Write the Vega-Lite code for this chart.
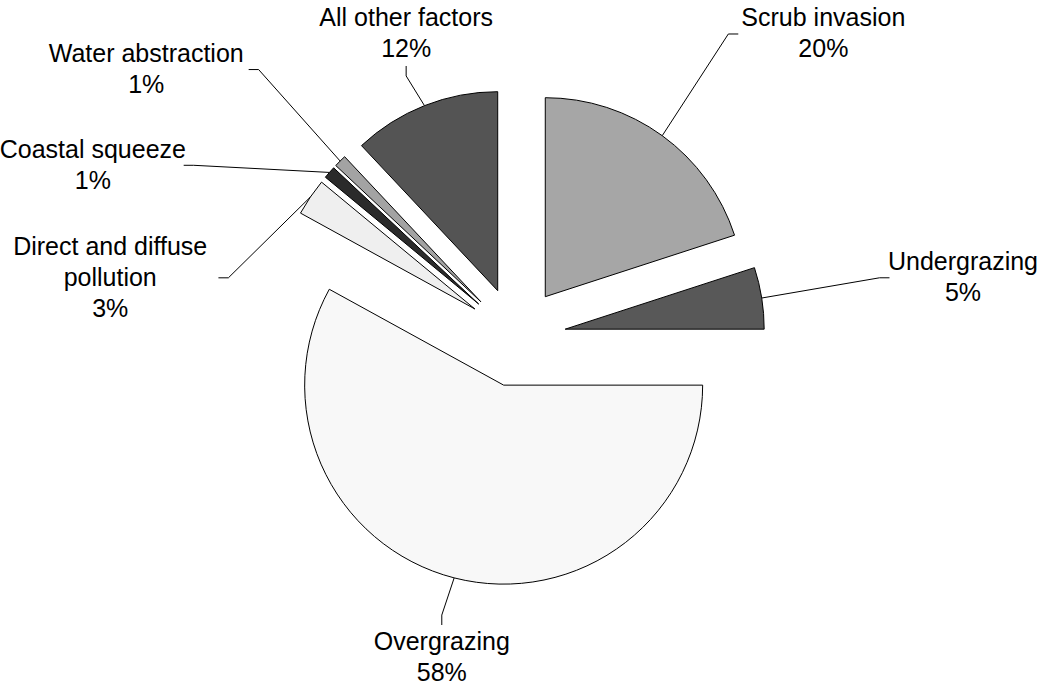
{
  "$schema": "https://vega.github.io/schema/vega-lite/v6.json",
  "width": 1045,
  "height": 691,
  "padding": 0,
  "autosize": {"type": "none"},
  "background": "white",
  "config": {"view": {"stroke": null}},
  "params": [
    {"name": "explode", "value": 0.25},
    {"name": "gap", "value": 0.3142},
    {"name": "rSide", "value": 1.9},
    {"name": "rTb", "value": 1.5},
    {"name": "stub", "value": 0.05},
    {"name": "charW", "value": 0.0291},
    {"name": "lineH", "value": 0.1558},
    {"name": "boxPadX", "value": 0.02},
    {"name": "boxPadY", "value": 0.005},
    {"name": "pad", "value": 0.01},
    {"name": "x0", "value": -2.593},
    {"name": "x1", "value": 2.658},
    {"name": "y0", "value": -1.779},
    {"name": "y1", "value": 1.693}
  ],
  "data": {
    "values": [
      {"name": "Scrub invasion", "share": 20},
      {"name": "Undergrazing", "share": 5},
      {"name": "Overgrazing", "share": 58},
      {"name": "Direct and diffuse\npollution", "share": 3},
      {"name": "Coastal squeeze", "share": 1},
      {"name": "Water abstraction", "share": 1},
      {"name": "All other factors", "share": 12}
    ]
  },
  "transform": [
    {"stack": "share", "groupby": [], "as": ["s0", "s1"]},
    {"calculate": "(datum.s0 + datum.s1) * PI / 100", "as": "m"},
    {"calculate": "sin(datum.m)", "as": "ux"},
    {"calculate": "cos(datum.m)", "as": "uy"},
    {"calculate": "explode * datum.ux", "as": "cx"},
    {"calculate": "explode * datum.uy", "as": "cy"},
    {"calculate": "(1 + explode) * datum.ux", "as": "px"},
    {"calculate": "(1 + explode) * datum.uy", "as": "py"},
    {"calculate": "datum.name + '\\n' + datum.share + '%'", "as": "label"},
    {"calculate": "split(datum.label, '\\n')", "as": "lines"},
    {"calculate": "length(datum.lines)", "as": "nl"},
    {"calculate": "max(length(datum.lines[0]), length(datum.lines[1]))", "as": "nc"},
    {"calculate": "datum.nc * charW + boxPadX", "as": "hw"},
    {"calculate": "datum.nl * lineH / 2 + boxPadY", "as": "hh"},
    {"window": [{"op": "row_number", "as": "j"}], "sort": [{"field": "m", "order": "descending"}]},
    {"calculate": "datum.m + (datum.j - 1) * gap", "as": "b"},
    {"window": [{"op": "min", "field": "b", "as": "bmin"}], "sort": [{"field": "m", "order": "descending"}], "frame": [null, 0]},
    {"calculate": "datum.bmin - (datum.j - 1) * gap", "as": "la"},
    {"calculate": "sin(datum.la)", "as": "lx"},
    {"calculate": "cos(datum.la)", "as": "ly"},
    {"calculate": "abs(datum.lx) > 0.5", "as": "side"},
    {"calculate": "datum.lx < 0 ? -1 : 1", "as": "sx"},
    {"calculate": "datum.ly < 0 ? -1 : 1", "as": "sy"},
    {"calculate": "(datum.side ? rSide : rTb) * datum.lx", "as": "qx0"},
    {"calculate": "(datum.side ? rSide : rTb) * datum.ly", "as": "qy0"},
    {"calculate": "datum.side ? (datum.sx < 0 ? max(datum.qx0, x0 + 2 * datum.hw + pad) : min(datum.qx0, x1 - 2 * datum.hw - pad)) : clamp(datum.qx0, x0 + datum.hw + pad, x1 - datum.hw - pad)", "as": "qx"},
    {"calculate": "datum.side ? clamp(datum.qy0, y0 + datum.hh + pad, y1 - datum.hh - pad) : (datum.sy > 0 ? min(datum.qy0, y1 - 2 * datum.hh - pad) : max(datum.qy0, y0 + 2 * datum.hh + pad))", "as": "qy"},
    {"calculate": "datum.side ? datum.qx - datum.sx * stub : datum.qx", "as": "ex"},
    {"calculate": "datum.side ? datum.qy : datum.qy - datum.sy * stub", "as": "ey"},
    {"calculate": "datum.side ? datum.qx + datum.sx * datum.hw : datum.qx", "as": "tx"},
    {"calculate": "(datum.side ? datum.qy : datum.qy + datum.sy * datum.hh) + (datum.nl - 1) * lineH / 2", "as": "ty"}
  ],
  "layer": [
    {
      "mark": {"type": "arc", "radius": 199, "stroke": "black", "strokeWidth": 1},
      "encoding": {
        "theta": {"field": "s0", "type": "quantitative", "scale": {"domain": [0, 100]}, "stack": null},
        "theta2": {"field": "s1"},
        "x": {"field": "cx", "type": "quantitative", "scale": {"domain": [-2.593, 2.658], "nice": false, "zero": false}, "axis": null},
        "y": {"field": "cy", "type": "quantitative", "scale": {"domain": [-1.779, 1.693], "nice": false, "zero": false}, "axis": null},
        "color": {
          "field": "name",
          "type": "nominal",
          "scale": {
            "domain": ["Scrub invasion", "Undergrazing", "Overgrazing", "Direct and diffuse\npollution", "Coastal squeeze", "Water abstraction", "All other factors"],
            "range": ["#a6a6a6", "#585858", "#f8f8f8", "#efefef", "#2b2b2b", "#a3a3a3", "#545454"]
          },
          "legend": null
        }
      }
    },
    {
      "mark": {"type": "rule", "color": "black", "strokeWidth": 1},
      "encoding": {
        "x": {"field": "px", "type": "quantitative", "scale": {"domain": [-2.593, 2.658], "nice": false, "zero": false}, "axis": null},
        "y": {"field": "py", "type": "quantitative", "scale": {"domain": [-1.779, 1.693], "nice": false, "zero": false}, "axis": null},
        "x2": {"field": "ex"},
        "y2": {"field": "ey"}
      }
    },
    {
      "mark": {"type": "rule", "color": "black", "strokeWidth": 1},
      "encoding": {
        "x": {"field": "ex", "type": "quantitative", "scale": {"domain": [-2.593, 2.658], "nice": false, "zero": false}, "axis": null},
        "y": {"field": "ey", "type": "quantitative", "scale": {"domain": [-1.779, 1.693], "nice": false, "zero": false}, "axis": null},
        "x2": {"field": "qx"},
        "y2": {"field": "qy"}
      }
    },
    {
      "mark": {"type": "text", "align": "center", "baseline": "middle", "lineBreak": "\n", "lineHeight": 31, "fontSize": 25, "font": "Liberation Sans", "color": "black"},
      "encoding": {
        "x": {"field": "tx", "type": "quantitative", "scale": {"domain": [-2.593, 2.658], "nice": false, "zero": false}, "axis": null},
        "y": {"field": "ty", "type": "quantitative", "scale": {"domain": [-1.779, 1.693], "nice": false, "zero": false}, "axis": null},
        "text": {"field": "label"}
      }
    }
  ]
}
